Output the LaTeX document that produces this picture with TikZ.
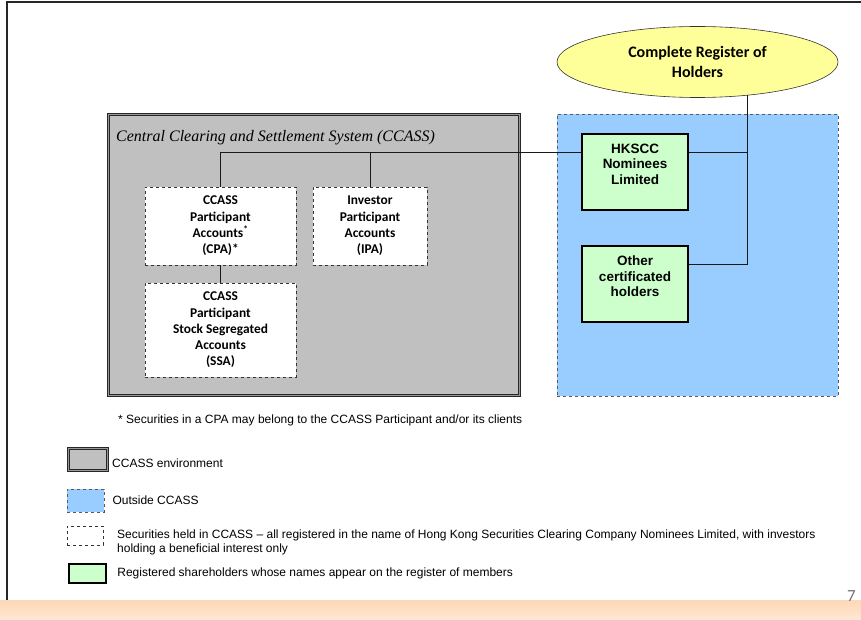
\documentclass[tikz,border=0pt]{standalone}
\usepackage{fontspec}
\setmainfont{Liberation Sans}
\newfontfamily\calibri{Carlito}
\newfontfamily\timesfont{Liberation Serif}
\usetikzlibrary{positioning,calc,shapes.geometric}
\definecolor{CcassGray}{HTML}{C0C0C0}
\definecolor{OutsideBlue}{HTML}{99CCFF}
\definecolor{HolderGreen}{HTML}{CCFFCC}
\definecolor{RegisterYellow}{HTML}{FFFF99}
\definecolor{BandTop}{HTML}{FDD8B6}
\definecolor{BandBottom}{HTML}{FEE8D4}
\tikzset{
  environment/.style={draw=black!85, line width=0.9pt, double=black!40,
    double distance=1.3pt, fill=CcassGray, inner sep=0pt},
  outside/.style={draw=black!65, dashed, line width=0.7pt, fill=OutsideBlue, inner sep=0pt},
  account/.style={draw=black!80, dashed, line width=0.8pt, fill=white, align=center,
    font={\fontsize{13.4}{16.3}\calibri\bfseries}, inner sep=0pt},
  holder/.style={draw=black, line width=2.4pt, fill=HolderGreen, align=center,
    font={\fontsize{13.5}{15.5}\selectfont\bfseries}, inner sep=0pt},
  register/.style={draw=black!80, line width=0.6pt, ellipse, fill=RegisterYellow,
    align=center, font={\fontsize{16}{20}\calibri\bfseries}, inner sep=0pt},
  wire/.style={line width=0.7pt, draw=black!90},
  keytext/.style={anchor=west, inner sep=0pt, align=left,
    font={\fontsize{12}{14}\selectfont}}
}

\begin{document}
\begin{tikzpicture}[x=1pt, y=-1pt]
  \useasboundingbox (0,0) rectangle (861,620);
  \draw[line width=1.2pt, black!85] (7,600) -- (7,2) -- (861,2);
  \shade[top color=BandTop, bottom color=BandBottom] (0,600) rectangle (861,620);
  \node[anchor=base east, inner sep=0pt, text=black!55, font={\fontsize{17}{19}\calibri}] (pageno) at (856,601) {7};

  \node[environment, minimum width=411pt, minimum height=281pt] (ccass) at (314,255) {};
  \node[anchor=base west, inner sep=0pt, font={\fontsize{16}{18}\timesfont\itshape}] (ccasstitle) at (116,142)
    {Central Clearing and Settlement System (CCASS)};
  \node[outside, minimum width=281pt, minimum height=282pt] (outsidearea) at (697.5,255) {};

  \node[account, minimum width=151pt, minimum height=78pt] (cpa) at (220.5,226)
    {CCASS\\Participant\\Accounts\textsuperscript{*}\\(CPA)*};
  \node[account, minimum width=114pt, minimum height=78pt] (ipa) at (370,226)
    {Investor\\Participant\\Accounts\\(IPA)};
  \node[account, minimum width=151pt, minimum height=94pt] (ssa) at (220.5,330)
    {CCASS\\Participant\\Stock Segregated\\Accounts\\(SSA)};

  \node[holder, minimum width=106pt, minimum height=76pt] (hkscc) at (635,172)
    {HKSCC\\Nominees\\Limited\\~};
  \node[holder, minimum width=106pt, minimum height=76pt] (other) at (635,284)
    {Other\\certificated\\holders\\~};
  \node[register, minimum width=281pt, minimum height=71pt] (holders) at (697.5,62)
    {Complete Register of\\Holders};

  \coordinate (hkin) at ($(hkscc.north west)!0.25!(hkscc.south west)$);
  \coordinate (hkout) at ($(hkscc.north east)!0.25!(hkscc.south east)$);
  \coordinate (otherout) at ($(other.north east)!0.25!(other.south east)$);

  \draw[wire] (cpa.north) |- (hkin);
  \draw[wire] (ipa.north) -- (ipa.north |- hkin);
  \draw[wire] (cpa) -- (ssa);
  \draw[wire] (holders.-34.5) |- (otherout);
  \draw[wire] (hkout) -- (hkout -| holders.-34.5);

  \node[keytext] (footnote) at (118,420)
    {* Securities in a CPA may belong to the CCASS Participant and/or its clients};

  \node[environment, minimum width=39pt, minimum height=22pt] (keyccass) at (88,459.5) {};
  \node[keytext] (keyccasstext) at (112,463) {CCASS environment};
  \node[outside, minimum width=37pt, minimum height=23pt] (keyoutside) at (85.5,500.5) {};
  \node[keytext, right=8pt of keyoutside] (keyoutsidetext) {Outside CCASS};
  \node[account, minimum width=36pt, minimum height=19pt] (keyaccount) at (85,535.5) {};
  \node[keytext, anchor=north west] (keyaccounttext) at (117,530)
    {Securities held in CCASS -- all registered in the name of Hong Kong Securities Clearing Company Nominees Limited, with investors\\
     holding a beneficial interest only};
  \node[holder, minimum width=37pt, minimum height=19pt] (keyholder) at (87.5,573.5) {};
  \node[keytext, right=10pt of keyholder] (keyholdertext)
    {Registered shareholders whose names appear on the register of members};
\end{tikzpicture}
\end{document}
